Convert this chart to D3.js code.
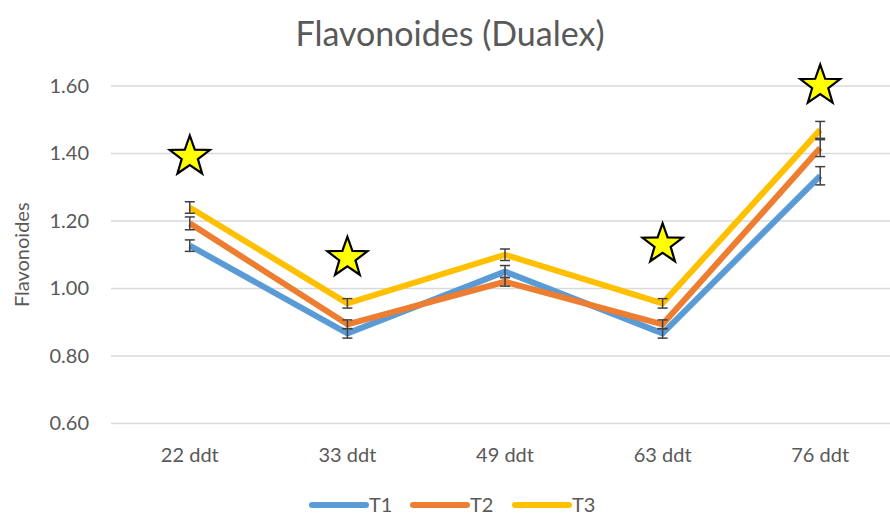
<!DOCTYPE html>
<html>
<head>
<meta charset="utf-8">
<script src="https://cdn.jsdelivr.net/npm/d3@7"></script>
<style>
  body { margin: 0; background: #fff; }
  svg { font-family: Lato, "Open Sans", sans-serif; }
</style>
</head>
<body>
<svg id="chart" width="890" height="515"></svg>
<script>
// Data
const categories = ["22 ddt", "33 ddt", "49 ddt", "63 ddt", "76 ddt"];
const seriesNames = ["T1", "T2", "T3"];
const t1 = [1.127, 0.867, 1.05, 0.867, 1.334];
const t2 = [1.193, 0.894, 1.02, 0.894, 1.416];
const t3 = [1.24, 0.956, 1.10, 0.956, 1.47];
const t1Err = [0.017, 0.014, 0.018, 0.014, 0.027];
const t2Err = [0.019, 0.013, 0.013, 0.013, 0.025];
const t3Err = [0.017, 0.014, 0.017, 0.014, 0.025];
const starCategories = ["22 ddt", "33 ddt", "63 ddt", "76 ddt"];
const starValues = [1.40, 1.10, 1.14, 1.61];
const yTicks = [0.6, 0.8, 1.0, 1.2, 1.4, 1.6];

const colors = ["#5B9BD5", "#ED7D31", "#FFC000"];
const series = [
  { name: seriesNames[0], values: t1, err: t1Err, color: colors[0] },
  { name: seriesNames[1], values: t2, err: t2Err, color: colors[1] },
  { name: seriesNames[2], values: t3, err: t3Err, color: colors[2] },
];

const width = 890;
const height = 515;
const margin = { top: 86, right: -9, bottom: 91.5, left: 111 };

const svg = d3.select("#chart");

const x = d3.scaleBand()
  .domain(categories)
  .range([margin.left, width - margin.right]);

const y = d3.scaleLinear()
  .domain([0.6, 1.6])
  .range([height - margin.bottom, margin.top]);

const textColor = "#595959";
const labelSize = "20px";

// Title
svg.append("text")
  .attr("x", 450)
  .attr("y", 46)
  .attr("text-anchor", "middle")
  .attr("fill", textColor)
  .style("font-size", "34px")
  .text("Flavonoides (Dualex)");

// Gridlines
svg.append("g")
  .selectAll("line")
  .data(yTicks)
  .join("line")
  .attr("x1", margin.left)
  .attr("x2", width)
  .attr("y1", d => y(d))
  .attr("y2", d => y(d))
  .attr("stroke", "#D9D9D9")
  .attr("stroke-width", 1.3);

// Y axis labels
const yAxis = d3.axisLeft(y)
  .tickValues(yTicks)
  .tickFormat(d3.format(".2f"))
  .tickSize(0)
  .tickPadding(22);

svg.append("g")
  .attr("transform", `translate(${margin.left}, 0)`)
  .call(yAxis)
  .call(g => g.select(".domain").remove())
  .call(g => g.selectAll("text")
    .attr("fill", textColor)
    .style("font-size", labelSize)
    .style("font-family", "Lato, 'Open Sans', sans-serif"));

// X axis labels
const xAxis = d3.axisBottom(x).tickSize(0).tickPadding(24);

svg.append("g")
  .attr("transform", `translate(0, ${y(0.6)})`)
  .call(xAxis)
  .call(g => g.select(".domain").remove())
  .call(g => g.selectAll("text")
    .attr("fill", textColor)
    .style("font-size", labelSize)
    .style("font-family", "Lato, 'Open Sans', sans-serif"));

// Y axis title
svg.append("text")
  .attr("transform", `translate(29, ${(y(0.6) + y(1.6)) / 2}) rotate(-90)`)
  .attr("text-anchor", "middle")
  .attr("fill", textColor)
  .style("font-size", labelSize)
  .text("Flavonoides");

const cx = d => x(d) + x.bandwidth() / 2;

// Lines
const line = d3.line()
  .x((d, i) => cx(categories[i]))
  .y(d => y(d));

svg.append("g")
  .selectAll("path")
  .data(series)
  .join("path")
  .attr("d", d => line(d.values))
  .attr("fill", "none")
  .attr("stroke", d => d.color)
  .attr("stroke-width", 6)
  .attr("stroke-linejoin", "round");

// Error bars
const errGroup = svg.append("g")
  .attr("stroke", "#404040")
  .attr("stroke-width", 1.5);

series.forEach(s => {
  s.values.forEach((v, i) => {
    const px = cx(categories[i]);
    const lo = y(v - s.err[i]);
    const hi = y(v + s.err[i]);
    errGroup.append("line").attr("x1", px).attr("x2", px).attr("y1", lo).attr("y2", hi);
    errGroup.append("line").attr("x1", px - 5).attr("x2", px + 5).attr("y1", lo).attr("y2", lo);
    errGroup.append("line").attr("x1", px - 5).attr("x2", px + 5).attr("y1", hi).attr("y2", hi);
  });
});

// Stars
function starPath(rOuter, rInner) {
  const pts = [];
  for (let k = 0; k < 10; k++) {
    const r = k % 2 === 0 ? rOuter : rInner;
    const a = -Math.PI / 2 + k * Math.PI / 5;
    pts.push([r * Math.cos(a), r * Math.sin(a)]);
  }
  return "M" + pts.map(p => p.join(",")).join("L") + "Z";
}

svg.append("g")
  .selectAll("path")
  .data(starValues)
  .join("path")
  .attr("d", starPath(21, 8.5))
  .attr("transform", (d, i) => `translate(${cx(starCategories[i])}, ${y(d) + 3})`)
  .attr("fill", "#FFFF00")
  .attr("stroke", "#000")
  .attr("stroke-width", 2.2)
  .attr("stroke-linejoin", "miter");

// Legend
const legendX = [312, 413, 515];
const legend = svg.append("g")
  .selectAll("g")
  .data(series)
  .join("g")
  .attr("transform", (d, i) => `translate(${legendX[i]}, 505)`);

legend.append("line")
  .attr("x1", 0)
  .attr("x2", 54)
  .attr("stroke", d => d.color)
  .attr("stroke-width", 6)
  .attr("stroke-linecap", "round");

legend.append("text")
  .attr("x", 57)
  .attr("y", 7)
  .attr("fill", textColor)
  .style("font-size", labelSize)
  .text(d => d.name);
</script>
</body>
</html>
